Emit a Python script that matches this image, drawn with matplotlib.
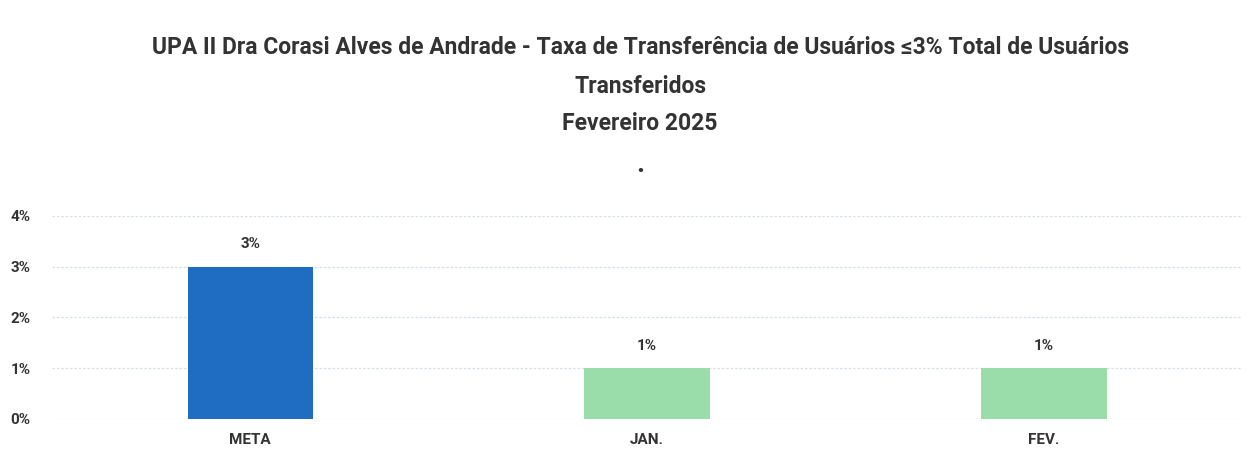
import matplotlib
matplotlib.use("Agg")
import matplotlib.pyplot as plt
from matplotlib.ticker import PercentFormatter

# -------- データ ---------------------------------------------------------
categories = ["META", "JAN.", "FEV."]
values = [0.03, 0.01, 0.01]
bar_colors = ["#1F6DC2", "#9ADDAA", "#9ADDAA"]
value_labels = ["3%", "1%", "1%"]
title_lines = ["UPA II Dra Corasi Alves de Andrade - Taxa de Transferência de Usuários ≤3% Total de Usuários",
               "Transferidos",
               "Fevereiro 2025"]

FONT = ["Roboto", "DejaVu Sans"]
plt.rcParams["font.family"] = FONT
TXT = "#333333"

fig = plt.figure(figsize=(12.6, 4.58), dpi=100)
ax = fig.add_axes([0.0409, 0.0852, 0.9452, 0.4432])

x = range(len(categories))
ax.bar(x, values, width=0.315, color=bar_colors, zorder=3)

for xi, v, lab in zip(x, values, value_labels):
    ax.annotate(lab, (xi, v), xytext=(0, 11), textcoords="offset points",
                ha="center", va="bottom", fontsize=11, fontweight="bold", color=TXT)

ax.set_xlim(-0.5, 2.5)
ax.set_ylim(0, 0.04)
ax.set_yticks([0, 0.01, 0.02, 0.03, 0.04])
ax.yaxis.set_major_formatter(PercentFormatter(1.0, decimals=0))
ax.set_xticks(list(x))
ax.set_xticklabels(categories)
ax.grid(axis="y", color="#D5DFE6", linestyle=(0, (2, 1.5)), linewidth=0.9, zorder=0)
for s in ax.spines.values():
    s.set_visible(False)
ax.tick_params(length=0, labelsize=11, colors=TXT, pad=10)
ax.tick_params(axis="y", pad=15)
for t in ax.get_xticklabels() + ax.get_yticklabels():
    t.set_fontweight("bold")

# タイトル（3行 + 点）
for yy, line in zip([0.897, 0.812, 0.731], title_lines):
    fig.text(0.508, yy, line, ha="center", va="center", fontsize=16.5,
             fontweight="bold", color=TXT)
fig.text(0.508, 0.64, ".", ha="center", va="center", fontsize=20,
         fontweight="bold", color=TXT)

fig.savefig("out.png", dpi=100, facecolor="white")
